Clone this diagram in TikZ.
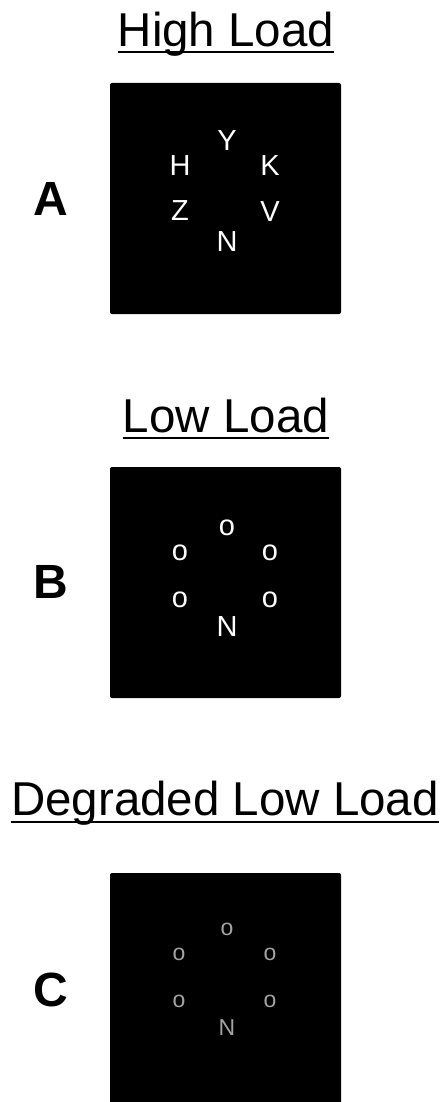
\documentclass[tikz,border=0pt]{standalone}
\usepackage{fontspec}
\setmainfont{Liberation Sans}
\begin{document}
\begin{tikzpicture}[x=1pt,y=-1pt,
  title/.style={anchor=base,inner sep=0pt,font=\fontsize{47.5}{50}\selectfont},
  panel/.style={inner sep=0pt,font=\fontsize{48}{50}\selectfont\bfseries},
  stim/.style={inner sep=0pt,text=white,font=\fontsize{29}{30}\selectfont},
  dstim/.style={inner sep=0pt,text=stimgray,font=\fontsize{23}{24}\selectfont},
  screen/.style={fill=black,rounded corners=2pt},
  uline/.style={line width=2pt}]
\definecolor{stimgray}{HTML}{A3A3A3}
\useasboundingbox (0,0) rectangle (445,1102);
\clip (0,0) rectangle (445,1102);

% Panel A
\node[title] (tA) at (226,47) {High Load};
\draw[uline] ([yshift=-5pt]tA.base west) -- ([yshift=-5pt]tA.base east);
\fill[screen] (110,83) rectangle (341,314);
\node[panel] (lA) at (51,199) {A};
\node[stim] (aY) at (227,141) {Y};
\node[stim] (aH) at (180,166) {H};
\node[stim] (aK) at (270,166) {K};
\node[stim] (aZ) at (180,211) {Z};
\node[stim] (aV) at (270,212) {V};
\node[stim] (aN) at (227,242) {N};

% Panel B
\node[title] (tB) at (226,432) {Low Load};
\draw[uline] ([yshift=-6pt]tB.base west) -- ([yshift=-6pt]tB.base east);
\fill[screen] (110,467) rectangle (341,698);
\node[panel] (lB) at (51,582) {B};
\node[stim] (bo1) at (227,528) {o};
\node[stim] (bo2) at (180,553) {o};
\node[stim] (bo3) at (270,553) {o};
\node[stim] (bo4) at (180,600) {o};
\node[stim] (bo5) at (270,600) {o};
\node[stim] (bN) at (227,627) {N};

% Panel C
\node[title] (tC) at (225,815) {Degraded Low Load};
\draw[uline] ([yshift=-7pt]tC.base west) -- ([yshift=-7pt]tC.base east);
\fill[screen] (110,873) rectangle (341,1108);
\node[panel] (lC) at (51,990) {C};
\node[dstim] (co1) at (227,929) {o};
\node[dstim] (co2) at (179,954.5) {o};
\node[dstim] (co3) at (270,954.5) {o};
\node[dstim] (co4) at (179,1001.5) {o};
\node[dstim] (co5) at (270,1001.5) {o};
\node[dstim] (cN) at (227,1028) {N};
\end{tikzpicture}
\end{document}
